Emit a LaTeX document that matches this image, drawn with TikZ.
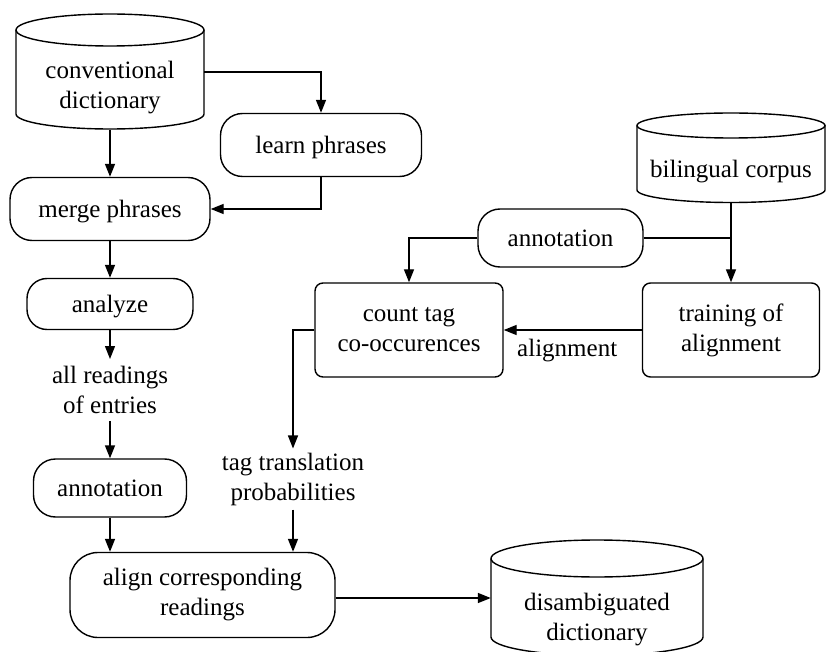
\documentclass[tikz,border=0pt]{standalone}
\usepackage{fontspec}
\setmainfont{Liberation Serif}
\usetikzlibrary{arrows.meta}
\begin{document}
\begin{tikzpicture}[x=1pt,y=-1pt,
  every node/.style={font=\fontsize{25}{30}\selectfont, align=center},
  line/.style={line width=1.4pt},
  arr/.style={line width=1.4pt, -{Triangle[length=13pt,width=10pt]}},
  rbox/.style={draw, line width=1.4pt, rounded corners=22pt, inner sep=0pt},
  sbox/.style={draw, line width=1.4pt, rounded corners=8pt, inner sep=0pt},
  nodesc/.style={text depth=0pt},
  cylbody/.style={inner sep=0pt},
  plain/.style={inner sep=5pt}]
\useasboundingbox (0,0) rectangle (835,652);

% conventional dictionary (cylinder)
\node[cylbody, minimum width=188pt, minimum height=115pt] (cd) at (110,72) {};
\draw[line] (110,30) ellipse[x radius=94pt, y radius=16pt];
\draw[line] (16,30) -- (16,114) arc[start angle=180, end angle=360, x radius=94pt, y radius=15pt] -- (204,30);
\node (cdt) at (110,88) {conventional\\dictionary};

% bilingual corpus (cylinder)
\node[cylbody, minimum width=188pt, minimum height=89.5pt] (bc) at (731,157.75) {};
\draw[line] (731,125.5) ellipse[x radius=94pt, y radius=12.5pt];
\draw[line] (637,125.5) -- (637,190) arc[start angle=180, end angle=360, x radius=94pt, y radius=12.5pt] -- (825,125.5);
\node (bct) at (731,172) {bilingual corpus};

% disambiguated dictionary (cylinder)
\node[cylbody, minimum width=212pt, minimum height=115.5pt] (dd) at (597,598) {};
\draw[line] (597,558.5) ellipse[x radius=106pt, y radius=18.5pt];
\draw[line] (491,558.5) -- (491,637) arc[start angle=180, end angle=360, x radius=106pt, y radius=18.5pt] -- (703,558.5);
\node (ddt) at (597,620) {disambiguated\\dictionary};

% process boxes
\node[rbox, nodesc, minimum width=201pt, minimum height=63pt] (lp) at (321,145) {learn phrases};
\node[rbox, nodesc, minimum width=200pt, minimum height=63pt] (mp) at (110,209) {merge phrases};
\node[rbox, nodesc, minimum width=166pt, minimum height=51pt, rounded corners=20pt] (an) at (110,304) {analyze};
\node[rbox, minimum width=153pt, minimum height=58pt] (at1) at (110,488) {annotation};
\node[rbox, minimum width=265pt, minimum height=85pt, rounded corners=28pt] (acr) at (202.5,595) {align corresponding\\readings};
\node[rbox, minimum width=165pt, minimum height=58pt] (at2) at (560.5,238) {annotation};
\node[sbox, minimum width=188pt, minimum height=94pt] (ct) at (409,330) {count tag\\co-occurences};
\node[sbox, minimum width=177pt, minimum height=94pt] (ta) at (731,330) {training of\\alignment};

% data texts
\node[plain, inner sep=7pt] (ar) at (110,390) {all readings\\of entries};
\node[plain, inner sep=4pt] (tt) at (293,479) {tag translation\\probabilities};

% connectors
\draw[arr] (cd.east) -| (lp.north);
\draw[arr] (cd.south) -- (mp.north);
\draw[arr] (lp.south) |- (mp.east);
\draw[arr] (mp.south) -- (an.north);
\draw[arr] (an.south) -- (ar.north);
\draw[arr] (ar.south) -- (at1.north);
\draw[arr] (at1.south) -- (at1.south |- acr.north);
\draw[arr] (tt.south) -- (tt.south |- acr.north);
\draw[arr] (ct.west) -| (tt.north);
\draw[arr] (at2.west) -| (ct.north);
\draw[arr] (bc.south) -- (ta.north);
\draw[line] (at2.east) -- (at2.east -| bc.south);
\draw[arr] (ta.west) -- node[below=8pt, pos=0.54, inner sep=0pt] {alignment} (ct.east);
\draw[arr] (acr.east |- dd.west) -- (dd.west);
\end{tikzpicture}
\end{document}
